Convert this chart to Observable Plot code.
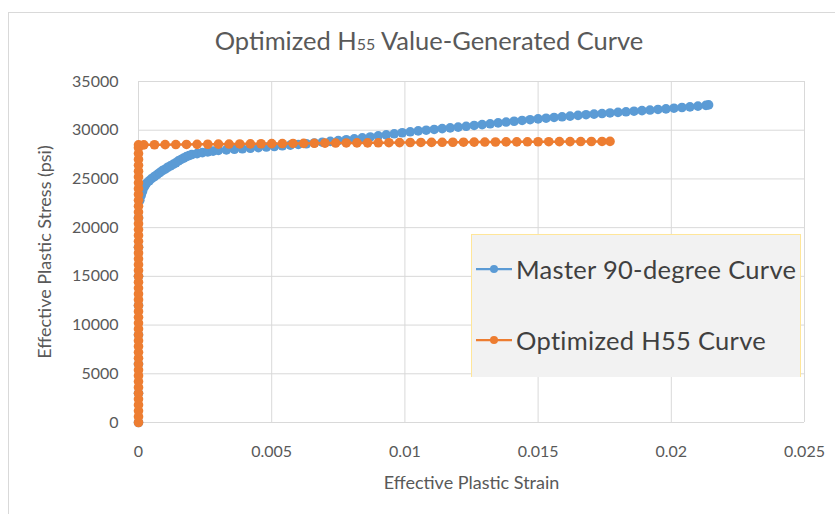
<!DOCTYPE html>
<html>
<head>
<meta charset="utf-8">
<script src="https://cdn.jsdelivr.net/npm/d3@7"></script>
<script src="https://cdn.jsdelivr.net/npm/@observablehq/plot@0.6"></script>
<style>
  html, body { margin: 0; padding: 0; background: #fff; }
  #wrap { position: relative; width: 835px; height: 514px; overflow: hidden; font-family: Lato, "Open Sans", sans-serif; }
  #frame { position: absolute; left: 8px; top: 12px; width: 900px; height: 600px; border: 1px solid #d9d9d9; }
  #title { position: absolute; left: 0; width: 858px; top: 25px; text-align: center; font-size: 25.5px; color: #595959; }
  #title sub { font-size: 16px; vertical-align: baseline; }
  #chart { position: absolute; left: 0; top: 0; }
  #legend { position: absolute; left: 471px; top: 234px; width: 330px; height: 143px; background: #f2f2f2; border: 1px solid #ffe699; border-bottom: none; box-sizing: border-box; }
  .entry { position: absolute; left: 3px; display: flex; align-items: center; font-size: 25.5px; letter-spacing: 0.3px; color: #404040; }
  .entry svg { margin-right: 3px; }
</style>
</head>
<body>
<div id="wrap">
  <div id="frame"></div>
  <div id="chart"></div>
  <div id="title">Optimized H<sub>55</sub> Value-Generated Curve</div>
  <div id="legend"></div>
</div>
<script>
// ---- data ----
const seriesNames = ["Master 90-degree Curve", "Optimized H55 Curve"];
const seriesColors = ["#5b9bd5", "#ed7d31"];

const xTicks = [0, 0.005, 0.01, 0.015, 0.02, 0.025];
const yTicks = [0, 5000, 10000, 15000, 20000, 25000, 30000, 35000];

const masterStrain = [0, 0, 0, 0, 0, 0, 0, 0, 0.00005, 0.0001, 0.00015, 0.0002, 0.00025, 0.0003, 0.0004, 0.0005, 0.0006, 0.0007, 0.0008, 0.0009, 0.0010, 0.0011, 0.0012, 0.0013, 0.0014, 0.0015, 0.0016, 0.0017, 0.0018, 0.0019, 0.0020, 0.0022, 0.0024, 0.0026, 0.0028, 0.0030, 0.0033, 0.0036, 0.0039, 0.0042, 0.0045, 0.0048, 0.0051, 0.0054, 0.0057, 0.0060, 0.0063, 0.0066, 0.0069, 0.0072, 0.0075, 0.0078, 0.0081, 0.0084, 0.0087, 0.0090, 0.0093, 0.0096, 0.0099, 0.0102, 0.0105, 0.0108, 0.0111, 0.0114, 0.0117, 0.0120, 0.0123, 0.0126, 0.0129, 0.0132, 0.0135, 0.0138, 0.0141, 0.0144, 0.0147, 0.0150, 0.0153, 0.0156, 0.0159, 0.0162, 0.0165, 0.0168, 0.0171, 0.0174, 0.0177, 0.0180, 0.0183, 0.0186, 0.0189, 0.0192, 0.0195, 0.0198, 0.0201, 0.0204, 0.0207, 0.0210, 0.0213, 0.0214];
const masterStress = [0, 3000, 6000, 9000, 12000, 15000, 18000, 21000, 22800, 23300, 23700, 24100, 24350, 24550, 24800, 25050, 25250, 25450, 25650, 25850, 26000, 26200, 26350, 26500, 26650, 26850, 27000, 27150, 27300, 27400, 27500, 27600, 27700, 27780, 27850, 27920, 27980, 28040, 28090, 28150, 28210, 28270, 28330, 28400, 28470, 28540, 28610, 28690, 28770, 28850, 28930, 29020, 29110, 29210, 29310, 29420, 29520, 29630, 29740, 29840, 29930, 30000, 30080, 30160, 30240, 30320, 30400, 30490, 30570, 30660, 30750, 30840, 30920, 31000, 31080, 31160, 31230, 31310, 31380, 31450, 31520, 31590, 31650, 31710, 31770, 31830, 31890, 31950, 32010, 32070, 32130, 32190, 32260, 32330, 32400, 32470, 32550, 32600];

const h55Strain = [0, 0, 0, 0, 0, 0, 0, 0, 0, 0, 0, 0, 0, 0, 0, 0, 0, 0, 0, 0, 0, 0, 0, 0, 0, 0, 0, 0, 0, 0, 0, 0, 0, 0, 0, 0, 0, 0, 0, 0, 0, 0, 0, 0, 0, 0, 0, 0, 0, 0.0002, 0.0006, 0.0010, 0.0014, 0.0018, 0.0022, 0.0026, 0.0030, 0.0034, 0.0038, 0.0042, 0.0046, 0.0050, 0.0054, 0.0058, 0.0062, 0.0066, 0.0070, 0.0074, 0.0078, 0.0082, 0.0086, 0.0090, 0.0094, 0.0098, 0.0102, 0.0106, 0.0110, 0.0114, 0.0118, 0.0122, 0.0126, 0.0130, 0.0134, 0.0138, 0.0142, 0.0146, 0.0150, 0.0154, 0.0158, 0.0162, 0.0166, 0.0170, 0.0174, 0.0177];
const h55Stress = [0, 600, 1200, 1800, 2400, 3000, 3600, 4200, 4800, 5400, 6000, 6600, 7200, 7800, 8400, 9000, 9600, 10200, 10800, 11400, 12000, 12600, 13200, 13800, 14400, 15000, 15600, 16200, 16800, 17400, 18000, 18600, 19200, 19800, 20400, 21000, 21600, 22200, 22800, 23400, 24000, 24600, 25200, 25800, 26400, 27000, 27600, 28200, 28500, 28500, 28510, 28520, 28530, 28540, 28550, 28560, 28570, 28580, 28590, 28600, 28610, 28620, 28630, 28640, 28650, 28660, 28670, 28680, 28690, 28700, 28705, 28710, 28720, 28730, 28740, 28745, 28750, 28760, 28765, 28770, 28780, 28785, 28790, 28800, 28805, 28810, 28815, 28820, 28825, 28830, 28835, 28840, 28845, 28850];

// ---- build tables ----
const master = masterStrain.map((x, i) => ({x, y: masterStress[i]}));
const h55 = h55Strain.map((x, i) => ({x, y: h55Stress[i]}));

const chart = Plot.plot({
  width: 835,
  height: 514,
  marginLeft: 138,
  marginRight: 31,
  marginTop: 81,
  marginBottom: 92,
  style: { fontFamily: "Lato, 'Open Sans', sans-serif", fontSize: "16px", color: "#595959", background: "transparent" },
  x: { domain: [0, 0.025], ticks: xTicks, tickFormat: d => String(d), tickSize: 0, tickPadding: 23,
       label: "Effective Plastic Strain", labelAnchor: "center", labelArrow: "none", labelOffset: 66 },
  y: { domain: [0, 35000], ticks: yTicks, tickFormat: d => String(d), tickSize: 0, tickPadding: 20,
       label: "Effective Plastic Stress (psi)", labelAnchor: "center", labelArrow: "none", labelOffset: 100 },
  marks: [
    Plot.gridX(xTicks, { stroke: "#d9d9d9", strokeOpacity: 1, strokeWidth: 1 }),
    Plot.gridY(yTicks, { stroke: "#d9d9d9", strokeOpacity: 1, strokeWidth: 1 }),
    Plot.line(master, { x: "x", y: "y", stroke: seriesColors[0], strokeWidth: 2.5 }),
    Plot.dot(master, { x: "x", y: "y", r: 4.8, fill: seriesColors[0], stroke: "none" }),
    Plot.line(h55, { x: "x", y: "y", stroke: seriesColors[1], strokeWidth: 2.5 }),
    Plot.dot(h55, { x: "x", y: "y", r: 4.8, fill: seriesColors[1], stroke: "none" })
  ]
});
chart.querySelectorAll("[aria-label='x-axis label'] text, [aria-label='y-axis label'] text").forEach(t => {
  t.style.fontSize = "18px";
});
document.getElementById("chart").appendChild(chart);

// ---- legend ----
const legend = document.getElementById("legend");
const tops = [19, 90];
seriesNames.forEach((name, i) => {
  const e = document.createElement("div");
  e.className = "entry";
  e.style.top = tops[i] + "px";
  e.innerHTML = `<svg width="38" height="12"><line x1="1" x2="37" y1="6" y2="6" stroke="${seriesColors[i]}" stroke-width="2.25"/><circle cx="19" cy="6" r="4" fill="${seriesColors[i]}"/></svg><span>${name}</span>`;
  legend.appendChild(e);
});
</script>
</body>
</html>
